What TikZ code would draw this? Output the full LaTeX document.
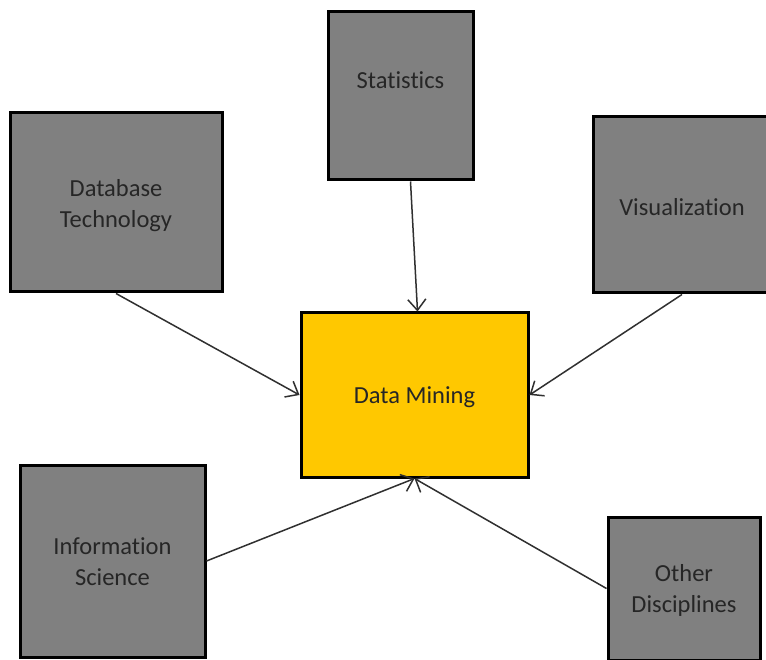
\documentclass[tikz,border=0pt]{standalone}
\usepackage{fontspec}
\setmainfont{Carlito}[Ligatures=NoCommon]
\usetikzlibrary{arrows.meta}
\definecolor{boxgray}{HTML}{808080}
\definecolor{mineyellow}{HTML}{FFC800}
\definecolor{inkdark}{HTML}{262626}
\definecolor{arrowink}{HTML}{303030}
\begin{document}
\begin{tikzpicture}[x=1pt,y=-1pt,
  box/.style={draw=black, line width=3pt, rectangle, inner sep=0pt},
  field/.style={box, fill=boxgray},
  lbl/.style={text=inkdark, align=center, font=\fontsize{24.5}{31}\selectfont},
  feed/.style={draw=arrowink, line width=1.5pt,
    -{Straight Barb[length=11pt,width=18pt,line width=1.5pt]}}]
\useasboundingbox (0,0) rectangle (766,660);
\fill[white] (0,0) rectangle (766,660);

% surrounding disciplines
\node[field, minimum width=145pt, minimum height=168pt,
  label={[lbl, yshift=16pt]center:Statistics}] (stats) at (400.5,96) {};
\node[field, minimum width=212pt, minimum height=179pt,
  label={[lbl, yshift=-3pt]center:Database\\Technology}] (db) at (116,202.5) {};
\node[field, minimum width=178pt, minimum height=176pt,
  label={[lbl, yshift=-2pt]center:Visualization}] (vis) at (682,205) {};
\node[field, minimum width=185pt, minimum height=192pt,
  label={[lbl, yshift=-1pt]center:Information\\Science}] (info) at (112.5,561) {};
\node[field, minimum width=152pt, minimum height=143pt,
  label={[lbl, yshift=-2pt]center:Other\\Disciplines}] (other) at (684,588.5) {};

% central topic
\node[box, fill=mineyellow, minimum width=227pt, minimum height=164pt,
  label={[lbl, yshift=-2pt]center:Data Mining}] (dm) at (414.5,395) {};

% contributions into data mining
\draw[feed] (db.south) -- (dm.west);
\draw[feed] ([xshift=10pt]stats.south) -- ([xshift=3pt]dm.north);
\draw[feed] (vis.south) -- (dm.east);
\draw[feed] (info.east) -- (dm.south);
\draw[feed] (other.west) -- (dm.south);
\end{tikzpicture}
\end{document}
